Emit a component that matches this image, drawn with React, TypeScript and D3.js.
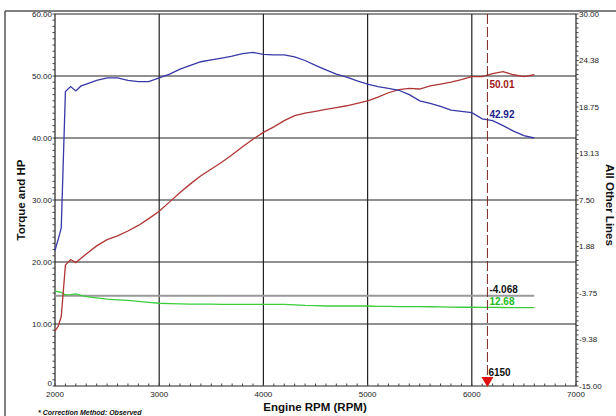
import React from "react";
import * as d3 from "d3";

const rpm = [2000, 2030, 2060, 2100, 2150, 2200, 2250, 2300, 2400, 2500, 2600, 2700, 2800, 2900, 3000, 3100, 3200, 3300, 3400, 3500, 3600, 3700, 3800, 3900, 4000, 4100, 4200, 4300, 4400, 4500, 4600, 4700, 4800, 4900, 5000, 5100, 5200, 5300, 5400, 5500, 5600, 5700, 5800, 5900, 6000, 6100, 6200, 6300, 6400, 6500, 6600];
const torque = [21.9, 23.6, 25.5, 47.5, 48.3, 47.6, 48.4, 48.7, 49.3, 49.7, 49.7, 49.3, 49.1, 49.1, 49.7, 50.3, 51.1, 51.7, 52.3, 52.6, 52.9, 53.2, 53.6, 53.8, 53.5, 53.4, 53.4, 53.1, 52.5, 51.7, 51.0, 50.3, 49.8, 49.2, 48.7, 48.3, 48.0, 47.7, 47.0, 46.0, 45.6, 45.1, 44.5, 44.3, 44.1, 43.1, 42.8, 42.0, 41.1, 40.4, 40.0];
const hp = [8.9, 9.6, 11.2, 19.5, 20.4, 19.9, 20.6, 21.3, 22.6, 23.6, 24.2, 25.0, 25.9, 27.0, 28.2, 29.7, 31.2, 32.6, 33.9, 35.0, 36.1, 37.3, 38.6, 39.8, 40.9, 41.8, 42.8, 43.6, 44.0, 44.3, 44.6, 44.9, 45.2, 45.6, 46.0, 46.6, 47.3, 47.8, 48.0, 47.9, 48.4, 48.7, 49.0, 49.4, 49.9, 49.9, 50.4, 50.7, 50.2, 49.9, 50.2];
const greenLine = [15.3, 15.2, 15.1, 14.7, 14.75, 14.85, 14.6, 14.4, 14.2, 14.0, 13.9, 13.8, 13.65, 13.5, 13.35, 13.3, 13.25, 13.2, 13.2, 13.2, 13.18, 13.17, 13.17, 13.17, 13.17, 13.15, 13.15, 13.1, 13.0, 12.95, 12.9, 12.9, 12.9, 12.9, 12.9, 12.85, 12.85, 12.8, 12.8, 12.8, 12.78, 12.75, 12.72, 12.7, 12.7, 12.69, 12.67, 12.66, 12.65, 12.65, 12.65];
const otherLine = [-4.068, -4.068];
const otherRpm = [2000, 6600];

const xTicks = [2000, 3000, 4000, 5000, 6000, 7000];
const leftTicks = [0, 10, 20, 30, 40, 50, 60];
const leftTickLabels = ["0", "10.00", "20.00", "30.00", "40.00", "50.00", "60.00"];
const rightTicks = [30, 24.375, 18.75, 13.125, 7.5, 1.875, -3.75, -9.375, -15];
const rightTickLabels = ["30.00", "24.38", "18.75", "13.13", "7.50", "1.88", "-3.75", "-9.38", "-15.00"];
const cursorRpm = 6150;
const cursorLabels = { hp: "50.01", torque: "42.92", other: "-4.068", green: "12.68" };

export default function App() {
  const L = 55, R = 576, T = 14, B = 386;
  const x = d3.scaleLinear().domain([2000, 7000]).range([L, R]);
  const yL = d3.scaleLinear().domain([0, 60]).range([B, T]);
  const yR = d3.scaleLinear().domain([-15, 30]).range([B, T]);

  const lineL = (vals: number[], xs: number[]) =>
    d3.line<number>().x((_, i) => x(xs[i])).y((v) => yL(v))(vals) || "";
  const lineR = (vals: number[], xs: number[]) =>
    d3.line<number>().x((_, i) => x(xs[i])).y((v) => yR(v))(vals) || "";

  const font = "'Liberation Sans', Arial, sans-serif";
  const minorX = d3.range(2000, 7001, 100);
  const minorL = d3.range(0, 60.01, 1);
  const minorR = d3.range(0, 81).map((i) => -15 + (i * 45) / 80);
  const cx = x(cursorRpm);

  return (
    <svg width={616} height={416} style={{ position: "absolute", left: 0, top: 0, background: "#fff" }} fontFamily={font}>
      <rect x={0} y={0} width={616} height={416} fill="#fff" />
      {/* outer frame */}
      <line x1={5} y1={11} x2={616} y2={11} stroke="#555" strokeWidth={1.5} />
      <line x1={5} y1={11} x2={5} y2={416} stroke="#555" strokeWidth={1.5} />

      {/* grid */}
      {leftTicks.map((t) => (
        <line key={"gh" + t} x1={L} x2={R} y1={yL(t)} y2={yL(t)} stroke="#222" strokeWidth={1.2} />
      ))}
      {xTicks.map((t) => (
        <line key={"gv" + t} x1={x(t)} x2={x(t)} y1={T} y2={B} stroke="#222" strokeWidth={1.2} />
      ))}

      {/* minor ticks */}
      {minorX.map((t) => (
        <line key={"mx" + t} x1={x(t)} x2={x(t)} y1={B} y2={B - 2.5} stroke="#444" strokeWidth={1} />
      ))}
      {minorL.map((t) => (
        <line key={"ml" + t} x1={L - 2.5} x2={L} y1={yL(t)} y2={yL(t)} stroke="#444" strokeWidth={1} />
      ))}
      {minorR.map((t, i) => (
        <line key={"mr" + i} x1={R} x2={R + 2.5} y1={yR(t)} y2={yR(t)} stroke="#444" strokeWidth={1} />
      ))}

      {/* tick labels */}
      {leftTicks.map((t, i) => (
        <text key={"lt" + t} x={L - 3} y={t === 0 ? yL(t) - 3 : yL(t)} dy="0.35em" textAnchor="end" fontSize={8} fill="#222">
          {leftTickLabels[i]}
        </text>
      ))}
      {rightTicks.map((t, i) => (
        <text key={"rt" + i} x={R + 3} y={yR(t)} dy="0.35em" textAnchor="start" fontSize={8} fill="#222">
          {rightTickLabels[i]}
        </text>
      ))}
      {xTicks.map((t) => (
        <text key={"xt" + t} x={x(t)} y={397} textAnchor="middle" fontSize={8} fill="#222">
          {t}
        </text>
      ))}

      {/* series */}
      <path d={lineR(otherLine, otherRpm)} fill="none" stroke="#999" strokeWidth={2} />
      <path d={lineL(greenLine, rpm)} fill="none" stroke="#3ccc3c" strokeWidth={1.3} />
      <path d={lineL(hp, rpm)} fill="none" stroke="#b03535" strokeWidth={1.3} />
      <path d={lineL(torque, rpm)} fill="none" stroke="#3838a8" strokeWidth={1.3} />

      {/* cursor */}
      <line x1={cx} x2={cx} y1={T} y2={B} stroke="#7a2525" strokeWidth={1} strokeDasharray="10,3" />
      <path d={`M${cx - 6},${B - 9} L${cx + 6},${B - 9} L${cx},${B + 1} Z`} fill="#e01010" />
      <text x={cx + 1} y={376} fontSize={10} fontWeight="bold" fill="#111">{cursorRpm}</text>
      <text x={cx + 2} y={87.5} fontSize={10} fontWeight="bold" fill="#a01818">{cursorLabels.hp}</text>
      <text x={cx + 2} y={117.5} fontSize={10} fontWeight="bold" fill="#1c1c8c">{cursorLabels.torque}</text>
      <text x={cx + 2} y={293} fontSize={10} fontWeight="bold" fill="#111">{cursorLabels.other}</text>
      <text x={cx + 2} y={305} fontSize={10} fontWeight="bold" fill="#22bb22">{cursorLabels.green}</text>

      {/* axis titles */}
      <text transform="translate(25,200) rotate(-90)" textAnchor="middle" fontSize={11.5} fontWeight="bold" fill="#111">
        Torque and HP
      </text>
      <text transform="translate(606,205) rotate(90)" textAnchor="middle" fontSize={11.5} fontWeight="bold" fill="#111">
        All Other Lines
      </text>
      <text x={315} y={411} textAnchor="middle" fontSize={11.5} fontWeight="bold" fill="#111">
        Engine RPM (RPM)
      </text>
      <text x={38} y={415} fontSize={7} fontWeight="bold" fontStyle="italic" fill="#111">
        * Correction Method: Observed
      </text>
    </svg>
  );
}
